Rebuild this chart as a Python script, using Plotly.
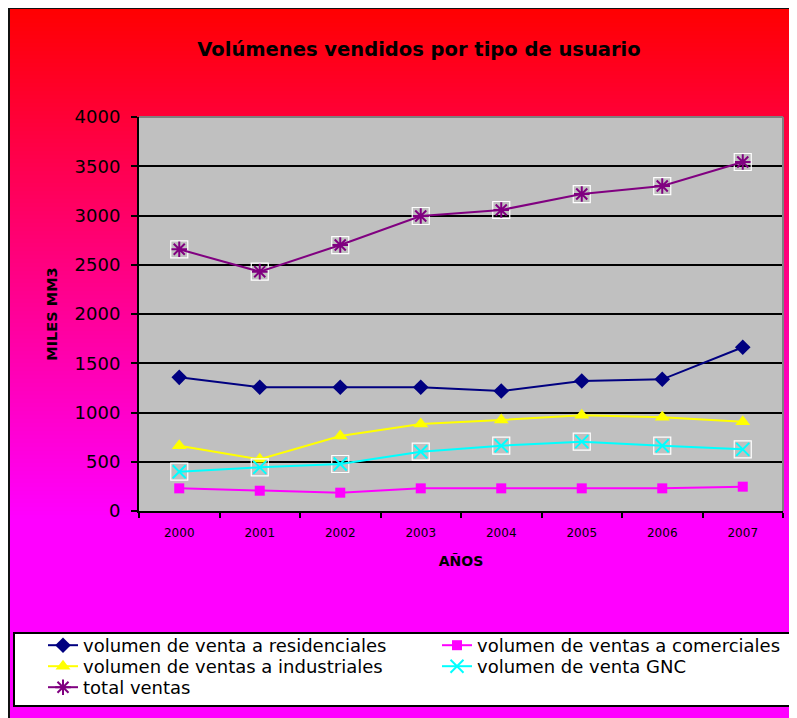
import plotly.graph_objects as go

years = ["2000", "2001", "2002", "2003", "2004", "2005", "2006", "2007"]
residenciales = [1357, 1256, 1256, 1256, 1218, 1320, 1337, 1662]
comerciales = [230, 206, 186, 230, 230, 230, 230, 247]
industriales = [663, 525, 761, 883, 924, 971, 951, 907]
gnc = [399, 443, 477, 602, 663, 704, 663, 626]
total = [2657, 2430, 2700, 2995, 3056, 3218, 3299, 3543]

# page has an 8px body margin: figure is 8px smaller and offset
OFF = 8
W, H = 797 - OFF, 718 - OFF
# plot area in page pixels
L, R, T, B = 139, 783, 117, 511
PW, PH = R - L, B - T


def px_x(p):
    return (p - L) / PW


def px_y(p):
    return (B - p) / PH


FONT = "DejaVu Sans"
fig = go.Figure()

LW = 2
fig.add_trace(go.Scatter(x=years, y=residenciales, mode="lines+markers",
                         name="volumen de venta a residenciales", legend="legend",
                         line=dict(color="#000080", width=LW),
                         marker=dict(symbol="diamond", size=12, color="#000080")))
fig.add_trace(go.Scatter(x=years, y=comerciales, mode="lines+markers",
                         name="volumen de ventas a comerciales", legend="legend2",
                         line=dict(color="#FF00FF", width=LW),
                         marker=dict(symbol="square", size=10, color="#FF00FF")))
fig.add_trace(go.Scatter(x=years, y=industriales, mode="lines+markers",
                         name="volumen de ventas a industriales", legend="legend3",
                         line=dict(color="#FFFF00", width=LW),
                         marker=dict(symbol="triangle-up", size=13, color="#FFFF00")))
# white square frames behind x / star markers
fig.add_trace(go.Scatter(x=years, y=gnc, mode="markers", showlegend=False, hoverinfo="skip",
                         marker=dict(symbol="square-open", size=17, color="white",
                                     line=dict(width=1.2, color="white"))))
fig.add_trace(go.Scatter(x=years, y=gnc, mode="lines+markers",
                         name="volumen de venta GNC", legend="legend4",
                         line=dict(color="#00FFFF", width=LW),
                         marker=dict(symbol="x-thin-open", size=13, color="#00FFFF",
                                     line=dict(width=2, color="#00FFFF"))))
fig.add_trace(go.Scatter(x=years, y=total, mode="markers", showlegend=False, hoverinfo="skip",
                         marker=dict(symbol="square-open", size=17, color="white",
                                     line=dict(width=1.2, color="white"))))
fig.add_trace(go.Scatter(x=years, y=total, mode="lines+markers",
                         name="total ventas", legend="legend5",
                         line=dict(color="#800080", width=LW),
                         marker=dict(symbol="asterisk-open", size=13, color="#800080",
                                     line=dict(width=2, color="#800080"))))

shapes = []
# gradient background (red -> magenta)
g0, g1 = 7, 520
step = 4
y = g0
while y < g1:
    t = (y + step / 2 - g0) / (g1 - g0)
    b = int(round(255 * min(max(t, 0), 1)))
    shapes.append(dict(type="rect", xref="paper", yref="paper", layer="below",
                       x0=px_x(8), x1=px_x(810), y0=px_y(y), y1=px_y(min(y + step, g1) + 0.5),
                       fillcolor=f"rgb(255,0,{b})", line=dict(width=0)))
    y += step
shapes.append(dict(type="rect", xref="paper", yref="paper", layer="below",
                   x0=px_x(8), x1=px_x(810), y0=px_y(g1), y1=px_y(730),
                   fillcolor="#FF00FF", line=dict(width=0)))
# chart border
shapes.append(dict(type="rect", xref="paper", yref="paper", layer="below",
                   x0=px_x(9), x1=px_x(810), y0=px_y(8), y1=px_y(730),
                   fillcolor="rgba(0,0,0,0)", line=dict(width=2, color="#111111")))
# plot area
shapes.append(dict(type="rect", xref="paper", yref="paper", layer="below",
                   x0=0, x1=1, y0=0, y1=1, fillcolor="#C0C0C0", line=dict(width=0)))
# plot area top/right border (gray)
shapes.append(dict(type="line", xref="paper", yref="paper", layer="above",
                   x0=0, x1=1, y0=1, y1=1, line=dict(width=2, color="#808080")))
shapes.append(dict(type="line", xref="paper", yref="paper", layer="above",
                   x0=1, x1=1, y0=0, y1=1, line=dict(width=2, color="#808080")))
# legend box
shapes.append(dict(type="rect", xref="paper", yref="paper", layer="below",
                   x0=px_x(14), x1=px_x(795), y0=px_y(633), y1=px_y(706),
                   fillcolor="white", line=dict(width=2, color="black")))

LEG_FS = 18


def leg(xtext, ycenter):
    return dict(orientation="v", x=px_x(xtext - 41), y=px_y(ycenter - 18),
                xanchor="left", yanchor="top", bgcolor="rgba(0,0,0,0)", borderwidth=0,
                font=dict(family=FONT, size=LEG_FS, color="black"))


fig.update_layout(
    width=W, height=H,
    margin=dict(l=L - OFF, r=797 - R, t=T - OFF, b=718 - B, autoexpand=False),
    paper_bgcolor="white", plot_bgcolor="#C0C0C0",
    shapes=shapes,
    title=dict(text="Volúmenes vendidos por tipo de usuario",
               x=px_x(419), xref="paper", xanchor="center",
               y=1 - (49 - OFF) / H, yref="container", yanchor="middle",
               font=dict(family=FONT, size=19.5, color="black", weight="bold")),
    showlegend=True,
    legend=leg(84, 645),
    legend2=leg(478, 645),
    legend3=leg(84, 666),
    legend4=leg(478, 666),
    legend5=leg(84, 687),
    xaxis=dict(type="category", range=[-0.5, 7.5], tickson="boundaries",
               ticks="outside", ticklen=5, tickwidth=2, tickcolor="black",
               showline=True, linecolor="black", linewidth=2, showgrid=False,
               tickfont=dict(family=FONT, size=12, color="black"),
               ticklabelstandoff=10,
               title=dict(text="AÑOS", standoff=17,
                          font=dict(family=FONT, size=14, color="black", weight="bold"))),
    yaxis=dict(range=[0, 4000], dtick=500, tick0=0,
               ticks="outside", ticklen=6, tickwidth=2, tickcolor="black",
               showline=True, linecolor="black", linewidth=2,
               showgrid=True, gridcolor="black", gridwidth=2, zeroline=False,
               tickfont=dict(family=FONT, size=18, color="black"),
               ticklabelstandoff=7,
               title=dict(text="MILES MM3", standoff=14,
                          font=dict(family=FONT, size=14.5, color="black", weight="bold"))),
)

fig.write_html("out.html")
